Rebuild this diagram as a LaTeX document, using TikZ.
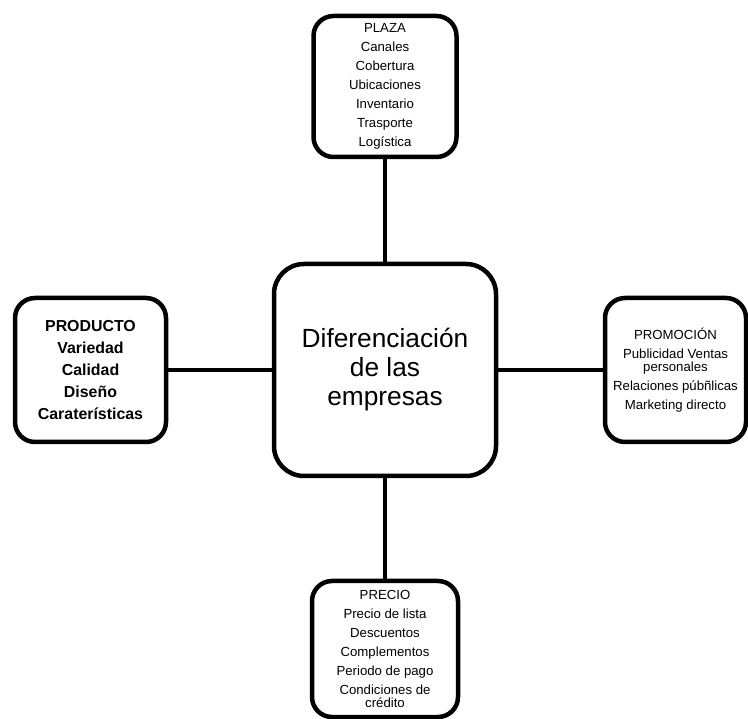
\documentclass[tikz,border=0pt]{standalone}
\usepackage{fontspec}
\setmainfont{Liberation Sans}
\begin{document}
\begin{tikzpicture}[x=1pt,y=-1pt,
    caja/.style={draw,fill=white,line width=4.5pt,rounded corners=20pt,
      align=center,inner sep=0pt,font=\fontsize{13.2}{19}\selectfont}]
      \useasboundingbox (0,0) rectangle (748,719);
      \draw
        (385,370) node[caja,minimum width=222pt,minimum height=212pt,rounded corners=30pt,
          font=\fontsize{26.3}{29}\selectfont] (centro){Diferenciación\\de las\\empresas}
        (385,86.5) node[caja,minimum width=143pt,minimum height=141pt] (plaza){PLAZA\\Canales\\Cobertura\\Ubicaciones\\Inventario\\Trasporte\\Logística}
        (675.5,370) node[caja,minimum width=141pt,minimum height=144pt] (promocion){PROMOCIÓN\\Publicidad Ventas\\[-6pt]personales\\Relaciones púbñlicas\\Marketing directo}
        (385,649) node[caja,minimum width=146pt,minimum height=136pt] (precio){PRECIO\\Precio de lista\\Descuentos\\Complementos\\Periodo de pago\\Condiciones de\\[-6pt]crédito}
        (90.5,370) node[caja,minimum width=151pt,minimum height=144pt,
          font=\fontsize{15.9}{22}\selectfont\bfseries] (producto){PRODUCTO\\Variedad\\Calidad\\Diseño\\Caraterísticas};
      \begin{scope}[line width=4.5pt]
        \draw (plaza) to (centro);
        \draw (producto) to (centro);
        \draw (promocion) to (centro);
        \draw (precio) to (centro);
      \end{scope}
\end{tikzpicture}
\end{document}
